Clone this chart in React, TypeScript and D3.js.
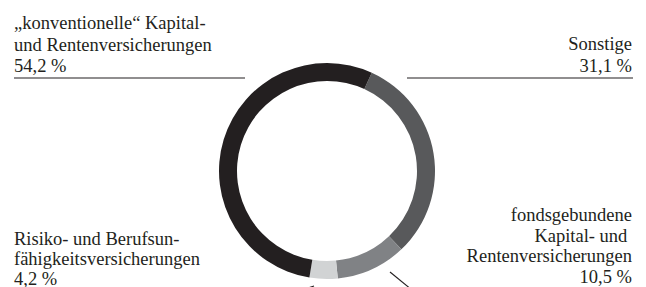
import * as d3 from 'd3';
import React, { useEffect, useRef } from 'react';

const categories = [
  'Sonstige',
  'fondsgebundene Kapital- und Rentenversicherungen',
  'Risiko- und Berufsunfähigkeitsversicherungen',
  '„konventionelle“ Kapital- und Rentenversicherungen',
];
const shares = [31.1, 10.5, 4.2, 54.2];
const sliceColors = ['#58595b', '#808285', '#d1d3d4', '#231f20'];

// label blocks, line by line as printed
const labelLines = [
  ['Sonstige', '31,1 %'],
  ['fondsgebundene', 'Kapital- und ', 'Rentenversicherungen', '10,5 %'],
  ['Risiko- und Berufsun-', 'fähigkeitsversicherungen', '4,2 %'],
  ['„konventionelle“ Kapital-', 'und Rentenversicherungen', '54,2 %'],
];

const W = 646;
const H = 287;

const App: React.FC = () => {
  const svgRef = useRef<SVGSVGElement | null>(null);

  useEffect(() => {
    if (!svgRef.current) return;
    const svg = d3.select(svgRef.current);
    svg.selectAll('*').remove();

    const cx = 327;
    const cy = 171;
    const outer = 108;
    const inner = 90;
    const start = (24.5 * Math.PI) / 180;
    const ink = '#231f20';

    const pie = d3
      .pie<number>()
      .sort(null)
      .value((d) => d)
      .startAngle(start)
      .endAngle(start + 2 * Math.PI);
    const arc = d3.arc<d3.PieArcDatum<number>>().innerRadius(inner).outerRadius(outer);

    svg
      .append('g')
      .attr('transform', `translate(${cx},${cy})`)
      .selectAll('path')
      .data(pie(shares))
      .enter()
      .append('path')
      .attr('d', arc)
      .attr('fill', (_, i) => sliceColors[i])
      .append('title')
      .text((_, i) => categories[i]);

    // leader lines
    const leaders = [
      [14, 78, 245, 78],
      [407, 78, 633, 78],
      [390, 272, 412, 290],
      [314, 286, 302, 290],
    ];
    svg
      .append('g')
      .selectAll('line')
      .data(leaders)
      .enter()
      .append('line')
      .attr('x1', (d) => d[0])
      .attr('y1', (d) => d[1])
      .attr('x2', (d) => d[2])
      .attr('y2', (d) => d[3])
      .attr('stroke', ink)
      .attr('stroke-width', 1.1);

    // label positions: x, first baseline, anchor, line step
    const labelPos: [number, number, string, number][] = [
      [632, 50, 'end', 21.5],
      [632, 221, 'end', 20.5],
      [14, 244.5, 'start', 20],
      [14, 29, 'start', 21.5],
    ];

    labelLines.forEach((lines, i) => {
      const [x, y0, anchor, step] = labelPos[i];
      const t = svg
        .append('text')
        .attr('font-family', '"Liberation Serif", "Times New Roman", serif')
        .attr('font-size', 18.5)
        .attr('fill', ink)
        .attr('text-anchor', anchor)
        .style('white-space', 'pre');
      lines.forEach((ln, j) => {
        t.append('tspan').attr('x', x).attr('y', y0 + j * step).text(ln);
      });
    });
  }, []);

  return (
    <svg
      ref={svgRef}
      width={W}
      height={H}
      style={{ position: 'absolute', left: 0, top: 0, background: '#fff' }}
    />
  );
};

export default App;
